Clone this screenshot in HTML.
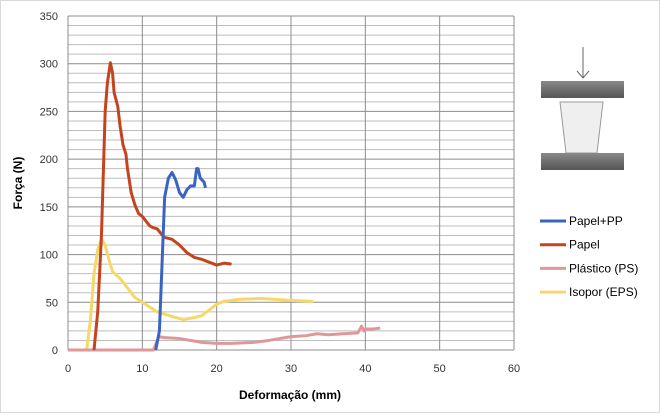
<!DOCTYPE html>
<html><head><meta charset="utf-8"><style>
body{margin:0;background:#fff;font-family:"Liberation Sans",sans-serif}
svg text{font-family:"Liberation Sans",sans-serif}
</style></head><body>
<svg width="660" height="413" viewBox="0 0 660 413">
<rect x="0.5" y="0.5" width="659" height="412" fill="#fff" stroke="#d9d9d9"/>
<g id="grid"></g>
<g id="ticks"></g>
<g id="series"></g>
<text x="22" y="183" transform="rotate(-90 22 183)" text-anchor="middle" font-size="12" font-weight="bold" fill="#000">Força (N)</text>
<text x="290" y="399" text-anchor="middle" font-size="12" font-weight="bold" fill="#000">Deformação (mm)</text>
<g>
<defs><linearGradient id="bar" x1="0" y1="0" x2="0" y2="1"><stop offset="0" stop-color="#888"/><stop offset="1" stop-color="#555"/></linearGradient></defs>
<line x1="583" y1="47" x2="583" y2="78" stroke="#666" stroke-width="1"/>
<polyline points="577,71 583,78 589,71" fill="none" stroke="#666"/>
<rect x="541" y="81" width="83" height="17" fill="url(#bar)"/>
<polygon points="560,102 603,102 597,153 566,153" fill="#efefef" stroke="#999"/>
<rect x="541" y="153" width="83" height="17" fill="url(#bar)"/>
</g>
<g id="legend"></g>
</svg>
<script>
const xTicks=[0,10,20,30,40,50,60];
const yTicks=[0,50,100,150,200,250,300,350];
const names=["Papel+PP","Papel","Plástico (PS)","Isopor (EPS)"];
const colors=["#3a64c4","#c3441f","#df979a","#f4d86a"];
const ppX=[11.8,12.3,12.7,13,13.5,14,14.5,15,15.5,16,16.5,17,17.3,17.5,17.8,18.3,18.5];
const ppY=[0,20,100,160,180,186,178,165,160,168,172,172,190,190,180,176,170];
const papelX=[3.5,4,4.5,5,5.3,5.7,6,6.2,6.7,7,7.4,7.8,8,8.5,9,9.5,10,11,11.5,12,12.5,13,14,15,16,17,18,19,20,21,22];
const papelY=[0,40,120,250,280,301,290,270,255,235,215,205,190,165,152,143,140,130,128,127,122,118,116,110,102,97,95,92,89,91,90];
const psX=[0,11.5,12.2,13,15,18,20,22,25,27,30,32,33.5,35,37,39,39.5,39.8,40,41,42];
const psY=[0,0,14,13,12,8,7,7,8,10,14,15,17,16,17,18,25,20,22,22,23];
const epsX=[0,2.5,3,3.5,4,4.5,5,5.5,6,7,8,9,10,12,14,15.5,17,18,19,20,21,23,26,30,33];
const epsY=[0,0,30,80,105,116,110,95,82,75,65,55,50,40,35,32,34,36,42,48,51,53,54,52,51];
const X0=68,X1=514,Y0=350,Y1=16;
const sx=v=>X0+(v/60)*(X1-X0), sy=v=>Y0-(v/350)*(Y0-Y1);
const NS="http://www.w3.org/2000/svg";
function mk(t,a,p){const e=document.createElementNS(NS,t);for(const k in a)e.setAttribute(k,a[k]);p.appendChild(e);return e;}
const grid=document.getElementById('grid');
for(let v=0;v<=350;v+=10){const l=mk('line',{x1:X0,x2:X1,y1:sy(v),y2:sy(v),stroke:v%50===0?'#8c8c8c':'#bdbdbd','stroke-width':1},grid);

}
xTicks.forEach(v=>{const l=mk('line',{x1:sx(v),x2:sx(v),y1:Y1,y2:Y0,stroke:'#8c8c8c'},grid);

});
const tk=document.getElementById('ticks');
yTicks.forEach(v=>{const t=mk('text',{x:X0-10,y:sy(v)+4,'text-anchor':'end','font-size':11,fill:'#333'},tk);t.textContent=v;

});
xTicks.forEach(v=>{const t=mk('text',{x:sx(v),y:372,'text-anchor':'middle','font-size':11,fill:'#333'},tk);t.textContent=v;

});
const data=[[ppX,ppY],[papelX,papelY],[psX,psY],[epsX,epsY]];
const ser=document.getElementById('series');
const order=[3,2,1,0];
order.forEach(i=>{const [xs,ys]=data[i];const p=mk('polyline',{points:xs.map((x,j)=>sx(x)+','+sy(ys[j])).join(' '),fill:'none',stroke:colors[i],'stroke-width':3,'stroke-linejoin':'round'},ser);

});
const lg=document.getElementById('legend');
names.forEach((n,i)=>{const y=221+i*23.7;const g=mk('g',{},lg);


mk('line',{x1:540,x2:566,y1:y,y2:y,stroke:colors[i],'stroke-width':3},g);
const t=mk('text',{x:569,y:y+4,'font-size':12,fill:'#000'},g);t.textContent=n;});
</script>
</body></html>
